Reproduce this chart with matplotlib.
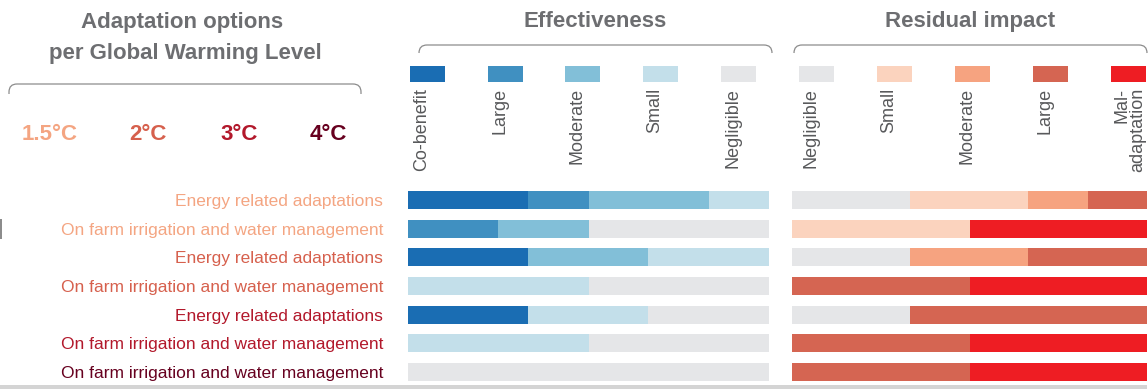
import matplotlib
matplotlib.use("Agg")
import matplotlib.pyplot as plt
from matplotlib.path import Path
from matplotlib.patches import PathPatch, Rectangle

# ---------------- data ----------------
options = [
    "Energy related adaptations",
    "On farm irrigation and water management",
    "Energy related adaptations",
    "On farm irrigation and water management",
    "Energy related adaptations",
    "On farm irrigation and water management",
    "On farm irrigation and water management",
]
gwl_of_row = ["1.5°C", "1.5°C", "2°C", "2°C", "3°C", "3°C", "4°C"]
gwl_levels = ["1.5°C", "2°C", "3°C", "4°C"]
gwl_colors = ["#F4A582", "#D6604D", "#B2182B", "#67001F"]

effect_levels = ["Co-benefit", "Large", "Moderate", "Small", "Negligible"]
effect_colors = ["#1A6DB3", "#4090C1", "#82BFD8", "#C3DFEA", "#E5E6E8"]
eff_cobenefit = [33.3, 0, 33.3, 0, 33.3, 0, 0]
eff_large = [16.7, 25, 0, 0, 0, 0, 0]
eff_moderate = [33.3, 25, 33.3, 0, 0, 0, 0]
eff_small = [16.7, 0, 33.4, 50, 33.3, 50, 0]
eff_negligible = [0, 50, 0, 50, 33.4, 50, 100]

resid_levels = ["Negligible", "Small", "Moderate", "Large", "Mal-\nadaptation"]
resid_colors = ["#E5E6E8", "#FBD3BE", "#F6A380", "#D56552", "#EE1D23"]
res_negligible = [33.3, 0, 33.3, 0, 33.3, 0, 0]
res_small = [33.3, 50, 0, 0, 0, 0, 0]
res_moderate = [16.7, 0, 33.3, 0, 0, 0, 0]
res_large = [16.7, 0, 33.4, 50, 66.7, 50, 50]
res_maladaptation = [0, 50, 0, 50, 0, 50, 50]

# ---------------- style ----------------
W, H = 1148, 389
FONT = ["Liberation Sans", "DejaVu Sans"]
TITLE_C = "#6D6E71"
LINE_C = "#8C8C8C"

fig = plt.figure(figsize=(W / 100, H / 100), dpi=100)

def fx(px):
    return px / W

def fy(py):
    return 1 - py / H

# decorative overlay in pixel coords
deco = fig.add_axes([0, 0, 1, 1], zorder=0)
deco.set_xlim(0, W)
deco.set_ylim(H, 0)
deco.axis("off")

# rows geometry
row_top_px = 185.7
row_step_px = 28.67
n = len(options)
ax_bottom_px = row_top_px + n * row_step_px
bar_h = 18 / row_step_px

def make_axes(left_px, right_px):
    ax = fig.add_axes([fx(left_px), fy(ax_bottom_px), fx(right_px - left_px),
                       (ax_bottom_px - row_top_px) / H], zorder=1)
    ax.set_xlim(0, 100)
    ax.set_ylim(n - 0.5, -0.5)
    ax.patch.set_alpha(0)
    for s in ax.spines.values():
        s.set_visible(False)
    ax.set_xticks([])
    return ax

ax_e = make_axes(408, 769)
ax_r = make_axes(792, 1147)

rows = list(range(n))

def stack(ax, series, colors):
    left = [0] * n
    for vals, c in zip(series, colors):
        ax.barh(rows, vals, left=left, height=bar_h, color=c, linewidth=0)
        left = [a + b for a, b in zip(left, vals)]

stack(ax_e, [eff_cobenefit, eff_large, eff_moderate, eff_small, eff_negligible],
      effect_colors)
stack(ax_r, [res_negligible, res_small, res_moderate, res_large, res_maladaptation],
      resid_colors)

ax_e.set_yticks(rows)
ax_e.set_yticklabels(options)
ax_e.tick_params(axis="y", length=0, pad=18)
for lab, g in zip(ax_e.get_yticklabels(), gwl_of_row):
    lab.set_color(gwl_colors[gwl_levels.index(g)])
    lab.set_fontfamily(FONT)
    lab.set_fontsize(12.5)
ax_r.set_yticks([])

# ---------------- titles ----------------
TS = 16
deco.text(182, 22, "Adaptation options", ha="center", va="center",
          fontsize=TS, fontweight="bold", color=TITLE_C, family=FONT)
deco.text(185, 53, "per Global Warming Level", ha="center", va="center",
          fontsize=TS, fontweight="bold", color=TITLE_C, family=FONT)
deco.text(595, 21, "Effectiveness", ha="center", va="center",
          fontsize=TS, fontweight="bold", color=TITLE_C, family=FONT)
deco.text(970, 21, "Residual impact", ha="center", va="center",
          fontsize=TS, fontweight="bold", color=TITLE_C, family=FONT)

# ---------------- brackets ----------------
def bracket(x0, x1, ytop, drop, r=8):
    verts = [(x0, ytop + drop), (x0, ytop + r), (x0, ytop), (x0 + r, ytop),
             (x1 - r, ytop), (x1, ytop), (x1, ytop + r), (x1, ytop + drop)]
    codes = [Path.MOVETO, Path.LINETO, Path.CURVE3, Path.CURVE3,
             Path.LINETO, Path.CURVE3, Path.CURVE3, Path.LINETO]
    deco.add_patch(PathPatch(Path(verts, codes), fill=False, edgecolor=LINE_C, lw=0.9))

bracket(9, 361, 84, 10)
bracket(419, 772, 45, 8)
bracket(794, 1147, 45, 8)

# ---------------- GWL labels ----------------
gwl_x = [49.5, 148, 239, 328]
for g, c, x in zip(gwl_levels, gwl_colors, gwl_x):
    deco.text(x, 134, g, ha="center", va="center", fontsize=16,
              fontweight="bold", color=c, family=FONT)

# ---------------- legends ----------------
eff_left = [410, 488, 565, 643, 721]
res_left = [799, 877, 955, 1033, 1111]
for lefts, levels, colors in [(eff_left, effect_levels, effect_colors),
                              (res_left, resid_levels, resid_colors)]:
    for x, lab, c in zip(lefts, levels, colors):
        deco.add_patch(Rectangle((x, 66), 35, 16, facecolor=c, edgecolor="none"))
        off = 19 if "\n" in lab else 12
        deco.text(x + off, 88, lab, rotation=90, ha="center", va="top",
                  multialignment="right", fontsize=13, color="#58595B",
                  family=FONT, linespacing=0.85)

# ---------------- frame bits ----------------
deco.add_patch(Rectangle((0, 385), 1147, 4, facecolor="#D4D4D4", edgecolor="none"))
deco.add_patch(Rectangle((0, 219), 1.6, 20, facecolor="#8C8C8C", edgecolor="none"))

fig.savefig("out.png", dpi=100)
